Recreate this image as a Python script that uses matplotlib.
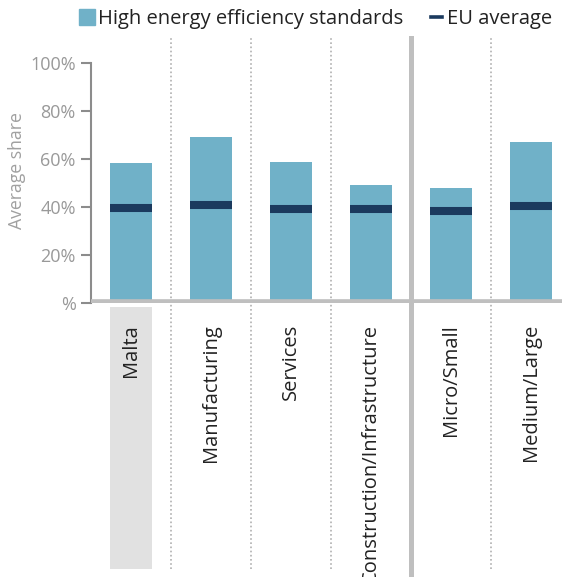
import matplotlib.pyplot as plt
from matplotlib.lines import Line2D

plt.rcParams['font.family'] = ['Open Sans', 'DejaVu Sans']

categories = ['Malta', 'Manufacturing', 'Services', 'Construction/Infrastructure',
              'Micro/Small', 'Medium/Large']
high_eff = [58.2, 69.0, 58.7, 49.0, 48.0, 67.0]
eu_avg = [39.6, 40.8, 39.2, 39.2, 38.4, 40.5]
ytick_vals = [0, 20, 40, 60, 80, 100]
ytick_labels = ['%', '20%', '40%', '60%', '80%', '100%']

bar_color = '#70b1c8'
eu_color = '#1b3a5e'
grey = '#bfbfbf'

fig = plt.figure(figsize=(5.62, 5.77), dpi=100)
ax = fig.add_axes([91 / 562, 1 - 303 / 577, 1 - 91 / 562, (303 - 38) / 577])

x = list(range(len(categories)))
w = 0.52
ax.bar(x, high_eff, width=w, color=bar_color, zorder=2)
ax.hlines(eu_avg, [i - w / 2 for i in x], [i + w / 2 for i in x],
          colors=eu_color, linewidth=5.8, zorder=3)

ax.set_xlim(-0.5, 5.39)
ax.set_ylim(0, 110.4)

# highlight for Malta label
ax.bar([0], [-109.5], bottom=-1.5, width=w, color='#e1e1e1', clip_on=False, zorder=0)

# separators
for sx in [0.5, 1.5, 2.5, 4.5]:
    ax.plot([sx, sx], [-111, 110.4], color='#b0b0b0', linestyle=(0, (1, 1.5)),
            linewidth=1.2, clip_on=False, zorder=1)
ax.plot([3.5, 3.5], [-113, 110.4], color=grey, linewidth=3.6, clip_on=False, zorder=1)

# baseline
ax.axhline(0, color=grey, linewidth=5.5, zorder=4, solid_capstyle='butt')

for s in ['top', 'right', 'bottom']:
    ax.spines[s].set_visible(False)
ax.spines['left'].set_bounds(0, 100)
ax.spines['left'].set_color('#8c8c8c')
ax.spines['left'].set_linewidth(1.5)

ax.set_yticks(ytick_vals)
ax.set_yticklabels(ytick_labels)
ax.tick_params(axis='y', colors='#8c8c8c', labelcolor='#999999', labelsize=13,
               length=7, width=1.5, pad=4)
ax.set_ylabel('Average share', color='#a0a0a0', fontsize=12.7, labelpad=3)

ax.set_xticks(x)
ax.set_xticklabels(categories, rotation=90, fontsize=14.5, color='#222222')
ax.tick_params(axis='x', length=0, pad=15)

handles = [Line2D([], [], color=bar_color, marker='s', markersize=11, linestyle='none'),
           Line2D([], [], color=eu_color, linewidth=2.6)]
fig.legend(handles, ['High energy efficiency standards', 'EU average'],
           loc='upper right', bbox_to_anchor=(1.015, 1.015), ncol=2, frameon=False,
           fontsize=14.5, handlelength=0.55, handletextpad=0.25, columnspacing=1.4,
           labelcolor='#222222')

fig.savefig('out.png', dpi=100)
